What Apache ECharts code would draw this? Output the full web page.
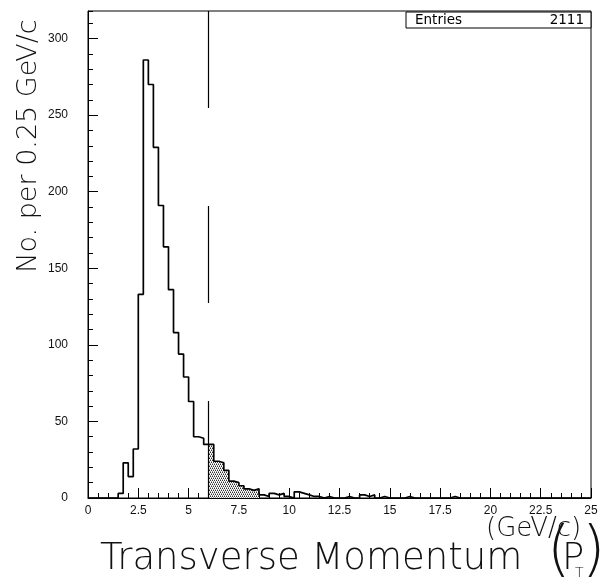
<!DOCTYPE html>
<html><head><meta charset="utf-8">
<script src="https://cdn.jsdelivr.net/npm/echarts@6/dist/echarts.min.js"></script>
<style>html,body{margin:0;padding:0;background:#fff}#c{width:602px;height:583px}</style>
</head><body><div id="c"></div>
<script>
// ---- data ----
const binStart = 0;
const binWidth = 0.25;
const counts = [
  0, 0, 0, 0, 0, 0, 3, 23, 14, 32,
  133, 286, 270, 229, 191, 164, 136, 108, 94, 79,
  63, 40, 39, 35, 35, 24, 23, 18, 11, 10,
  8, 6, 5, 6, 2, 1, 3, 2, 3, 1,
  0, 4, 3, 2, 1, 1, 0, 1, 0, 0,
  0, 1, 0, 0, 2, 1, 2, 0, 1, 0,
  0, 0, 0, 1, 0, 0, 0, 0, 0, 0,
  0, 0, 1, 0, 0, 0, 0, 0, 0, 0,
  0, 0, 0, 0, 0, 0, 0, 0, 0, 0,
  0, 0, 0, 0, 0, 0, 0, 0, 0, 0
];
const xRange = [0, 25];
const xMajor = 2.5;
const yRange = [0, 318];
const yMajor = 50;
const yMinor = 10;
const cutValue = 6.0;
const shadeRange = [6.0, 8.5];
const entriesLabel = 'Entries';
const entriesValue = '2111';
const yTitle = 'No. per 0.25 GeV/c';
const xTitle = 'Transverse Momentum';
const unitText = '(GeV/c)';

// ---- build series data ----
const edges = counts.map((v, i) => binStart + i * binWidth);
const outline = counts.map((v, i) => [edges[i], v]);
outline.push([binStart + counts.length * binWidth, counts[counts.length - 1]]);
const shade = [];
counts.forEach((v, i) => {
  if (edges[i] >= shadeRange[0] - 1e-9 && edges[i] < shadeRange[1] - 1e-9) shade.push([edges[i], v]);
});
shade.push([shadeRange[1], shade[shade.length - 1][1]]);

function makePattern() {
  const c = document.createElement('canvas');
  c.width = 4; c.height = 4;
  const g = c.getContext('2d');
  g.fillStyle = '#fff'; g.fillRect(0, 0, 4, 4);
  g.fillStyle = '#333';
  [[0,0],[2,0],[1,2],[3,2]].forEach(p => g.fillRect(p[0], p[1], 1, 1));
  g.fillStyle = '#999';
  [[1,1],[3,1],[0,3],[2,3]].forEach(p => g.fillRect(p[0], p[1], 1, 1));
  return c;
}

const tickFont = 'Liberation Sans';
const titleFont = '"DejaVu Sans", sans-serif';

const chart = echarts.init(document.getElementById('c'), null, {renderer: 'canvas'});
chart.setOption({
  animation: false,
  backgroundColor: '#fff',
  grid: {left: 88, right: 11, top: 11, bottom: 85, show: true, borderColor: '#000', borderWidth: 1, backgroundColor: 'transparent'},
  xAxis: [{
    type: 'value', min: xRange[0], max: xRange[1], interval: xMajor,
    axisLine: {show: true, lineStyle: {color: '#000', width: 1}},
    axisTick: {show: true, inside: true, length: 10, lineStyle: {color: '#000'}},
    minorTick: {show: true, splitNumber: 5, length: 5, lineStyle: {color: '#000'}},
    splitLine: {show: false},
    axisLabel: {margin: 7, fontSize: 12, color: '#111', fontFamily: tickFont}
  }],
  yAxis: [{
    type: 'value', min: yRange[0], max: yRange[1], interval: yMajor, position: 'left',
    axisLine: {show: true, lineStyle: {color: '#000', width: 1}},
    axisTick: {show: true, inside: true, length: 10, lineStyle: {color: '#000'}},
    splitLine: {show: false},
    axisLabel: {margin: 20, fontSize: 12, color: '#111', fontFamily: tickFont, showMaxLabel: false}
  }, {
    type: 'value', min: yRange[0], max: yRange[1], interval: yMinor, position: 'left', offset: 0,
    axisLine: {show: false},
    axisTick: {show: true, inside: true, length: 5, lineStyle: {color: '#000'}},
    splitLine: {show: false},
    axisLabel: {show: false}
  }],
  series: [{
    type: 'line', step: 'end', data: shade, symbol: 'none', z: 2,
    lineStyle: {width: 0},
    areaStyle: {color: {image: makePattern(), repeat: 'repeat'}, opacity: 1},
    silent: true
  }, {
    type: 'line', step: 'end', data: outline, symbol: 'none', z: 3,
    lineStyle: {color: '#000', width: 1.7},
    silent: true,
    markLine: {
      silent: true, symbol: ['none', 'none'], label: {show: false},
      lineStyle: {type: [97, 98], color: '#000', width: 1.2},
      data: [{xAxis: cutValue}]
    }
  }],
  graphic: [
    {type: 'rect', shape: {x: 406, y: 12, width: 185, height: 16}, style: {fill: '#fff', stroke: '#000', lineWidth: 1}, z: 10},
    {type: 'text', x: 415, y: 20, style: {text: entriesLabel, font: '13.5px ' + titleFont, fill: '#000', textAlign: 'left', textVerticalAlign: 'middle'}, z: 11},
    {type: 'text', x: 584, y: 20, style: {text: entriesValue, font: '13.5px ' + titleFont, fill: '#000', textAlign: 'right', textVerticalAlign: 'middle'}, z: 11},
    {type: 'text', x: 29, y: 146, rotation: Math.PI / 2, style: {text: yTitle, font: '200 27px ' + titleFont, fill: '#111', textAlign: 'center', textVerticalAlign: 'middle'}},
    {type: 'text', x: 100, y: 559, style: {text: xTitle, font: '200 37px ' + titleFont, fill: '#111', textAlign: 'left', textVerticalAlign: 'middle'}},
    {type: 'text', x: 486, y: 529, style: {text: unitText, font: '200 26px ' + titleFont, fill: '#111', textAlign: 'left', textVerticalAlign: 'middle'}},
    {type: 'text', x: 547, y: 553, style: {text: '(', font: '200 60px ' + titleFont, fill: '#111', textAlign: 'left', textVerticalAlign: 'middle'}},
    {type: 'text', x: 562, y: 559, style: {text: 'P', font: '200 37px ' + titleFont, fill: '#111', textAlign: 'left', textVerticalAlign: 'middle'}},
    {type: 'text', x: 575, y: 573, style: {text: 'T', font: '200 14px ' + titleFont, fill: '#111', textAlign: 'left', textVerticalAlign: 'middle'}},
    {type: 'text', x: 582, y: 553, style: {text: ')', font: '200 60px ' + titleFont, fill: '#111', textAlign: 'left', textVerticalAlign: 'middle'}}
  ]
});
</script>
</body></html>
